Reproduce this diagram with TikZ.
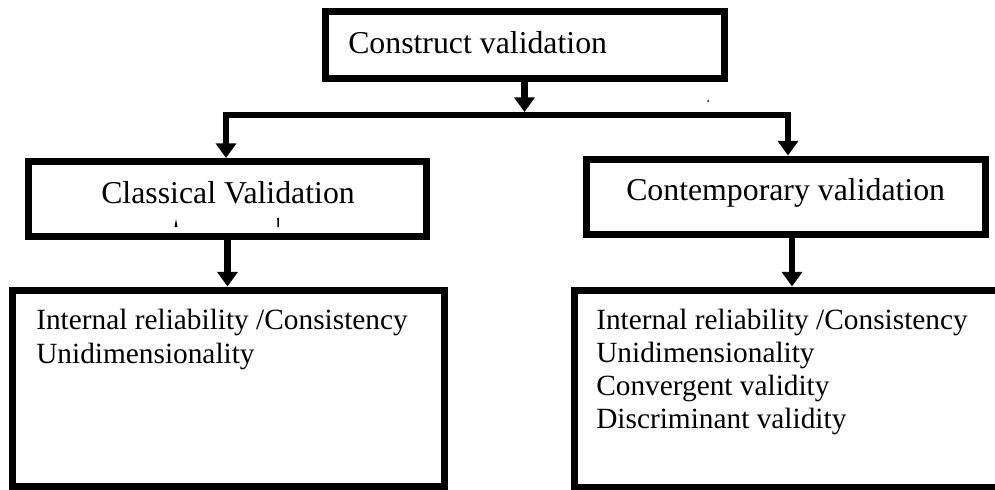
\documentclass[tikz,border=0pt]{standalone}
\usepackage{fontspec}
\setmainfont{Liberation Serif}
\usetikzlibrary{arrows.meta}
\begin{document}
\begin{tikzpicture}[x=0.75pt,y=-0.75pt,
  >={Triangle[width=15pt,length=11pt]},
  box/.style={draw, line width=5.25pt, line join=miter, inner sep=0pt},
  head/.style={font=\fontsize{23.85}{28}\selectfont, inner sep=0pt, anchor=base west},
  item/.style={font=\fontsize{22}{25}\selectfont, inner sep=0pt, anchor=base west},
  link/.style={line width=5pt, line join=miter, ->},
  twoway/.style={line width=5pt, line join=miter, <->},
]
\useasboundingbox (0,0) rectangle (995,489);
\clip (0,0) rectangle (995,489);

% boxes
\node[box, minimum width=399*0.75pt, minimum height=67*0.75pt] (top) at (524.5,45) {};
\node[box, minimum width=398*0.75pt, minimum height=75*0.75pt] (cls) at (227.5,199) {};
\node[box, minimum width=399*0.75pt, minimum height=75*0.75pt] (con) at (785.5,196.5) {};
\node[box, minimum width=432*0.75pt, minimum height=196*0.75pt] (ll) at (228,388) {};
\node[box, minimum width=436*0.75pt, minimum height=197*0.75pt] (rl) at (792,388.5) {};

% headings
\node[head] (toptext) at (348,53) {Construct validation};
\node[head] (clstext) at (101,203) {Classical Validation};
\node[head] (context) at (626,200) {Contemporary validation};

% list entries
\node[item] (l1) at (36,329) {Internal reliability /Consistency};
\node[item] (l2) at (36,363) {Unidimensionality};
\node[item] (r1) at (596,329) {Internal reliability /Consistency};
\node[item] (r2) at (596,362) {Unidimensionality};
\node[item] (r3) at (596,395) {Convergent validity};
\node[item] (r4) at (596,428) {Discriminant validity};

% connectors
\coordinate (jl) at (226,115);
\coordinate (jr) at (788,115);
\coordinate (mid) at (524.5,112);
\draw[link] (top.south) -- (mid);
\draw[twoway] (cls.north -| jl) -- (jl) -- (jr) -- (con.north -| jr);
\draw[link] (cls.south) -- (cls.south |- ll.north);
\draw[link] (con.south -| rl.north) -- (rl.north);

% stray marks
\fill (708,101) circle (1);
\fill (174.5,227) -- (176,219) -- (177.5,227) -- cycle;
\fill (277,218.5) -- (278.8,217.5) -- (278.8,227) -- (277.4,227) -- (277.4,220) -- cycle;
\end{tikzpicture}
\end{document}
